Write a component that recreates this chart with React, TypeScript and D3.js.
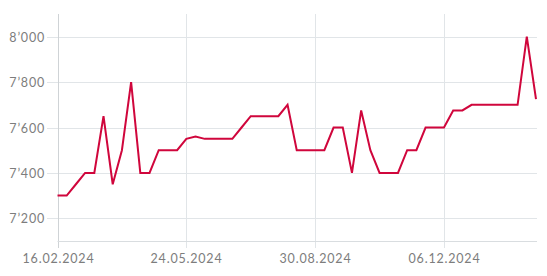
import React, { useEffect, useRef } from "react";
import * as d3 from "d3";

const START_DATE = "2024-02-16";
const END_DATE = "2025-02-14";
const WEEK_STEP_DAYS = 7;

const prices: number[] = [
  7300, 7300, 7350, 7400, 7400, 7650, 7350, 7500, 7800, 7400,
  7400, 7500, 7500, 7500, 7550, 7560, 7550, 7550, 7550, 7550,
  7600, 7650, 7650, 7650, 7650, 7700, 7500, 7500, 7500, 7500,
  7600, 7600, 7400, 7675, 7500, 7400, 7400, 7400, 7500, 7500,
  7600, 7600, 7600, 7675, 7675, 7700, 7700, 7700, 7700, 7700,
  7700, 8000, 7725,
];

const yTicks: number[] = [7200, 7400, 7600, 7800, 8000];
const xTickLabels: string[] = ["16.02.2024", "24.05.2024", "30.08.2024", "06.12.2024"];

const W = 547;
const H = 276;

export default function App() {
  const ref = useRef<SVGSVGElement | null>(null);

  useEffect(() => {
    const svg = d3.select(ref.current);
    svg.selectAll("*").remove();

    const parse = d3.timeParse("%Y-%m-%d");
    const parseTick = d3.timeParse("%d.%m.%Y");
    const start = parse(START_DATE)!;
    const end = parse(END_DATE)!;
    const data = prices.map((v, i) => ({
      date: d3.timeDay.offset(start, i * WEEK_STEP_DAYS),
      value: v,
    }));

    const x = d3.scaleTime().domain([start, end]).range([57.5, 536]);
    const y = d3.scaleLinear().domain([7100, 8100]).range([241, 14]);

    const grid = "#e1e5e8";
    const textColor = "#7d7d7d";
    const font = "Lato, 'Open Sans', sans-serif";
    const fs = 12.5;
    const ls = 0.8;

    // horizontal gridlines
    const gY = svg.append("g");
    yTicks.forEach((t) => {
      const yy = Math.round(y(t)) + 0.5;
      gY.append("line")
        .attr("x1", 47).attr("x2", 537)
        .attr("y1", yy).attr("y2", yy)
        .attr("stroke", grid).attr("stroke-width", 1);
      gY.append("text")
        .attr("x", 45).attr("y", yy)
        .attr("dy", "0.36em")
        .attr("text-anchor", "end")
        .attr("fill", textColor)
        .attr("font-family", font)
        .attr("font-size", fs)
        .attr("letter-spacing", ls)
        .text(d3.format(",")(t).replace(",", "\u2019"));
    });

    // vertical gridlines
    const gX = svg.append("g");
    xTickLabels.forEach((lbl, i) => {
      const d = parseTick(lbl)!;
      const xx = Math.round(x(d)) + 0.5;
      gX.append("line")
        .attr("x1", xx).attr("x2", xx)
        .attr("y1", 14).attr("y2", 248)
        .attr("stroke", i === 0 ? "#cfd3d6" : grid).attr("stroke-width", 1);
      gX.append("text")
        .attr("x", xx).attr("y", 263)
        .attr("text-anchor", "middle")
        .attr("fill", textColor)
        .attr("font-family", font)
        .attr("font-size", fs)
        .attr("letter-spacing", ls)
        .text(lbl);
    });

    // bottom axis line
    svg.append("line")
      .attr("x1", 57.5).attr("x2", 537)
      .attr("y1", 241.5).attr("y2", 241.5)
      .attr("stroke", "#d9dde0").attr("stroke-width", 1);

    const line = d3.line<{ date: Date; value: number }>()
      .x((d) => x(d.date))
      .y((d) => y(d.value));

    svg.append("path")
      .datum(data)
      .attr("d", line)
      .attr("fill", "none")
      .attr("stroke", "#d0063c")
      .attr("stroke-width", 2)
      .attr("stroke-linejoin", "miter");
  }, []);

  return (
    <svg
      ref={ref}
      width={W}
      height={H}
      style={{ position: "absolute", left: 0, top: 0, background: "#fff" }}
    />
  );
}
